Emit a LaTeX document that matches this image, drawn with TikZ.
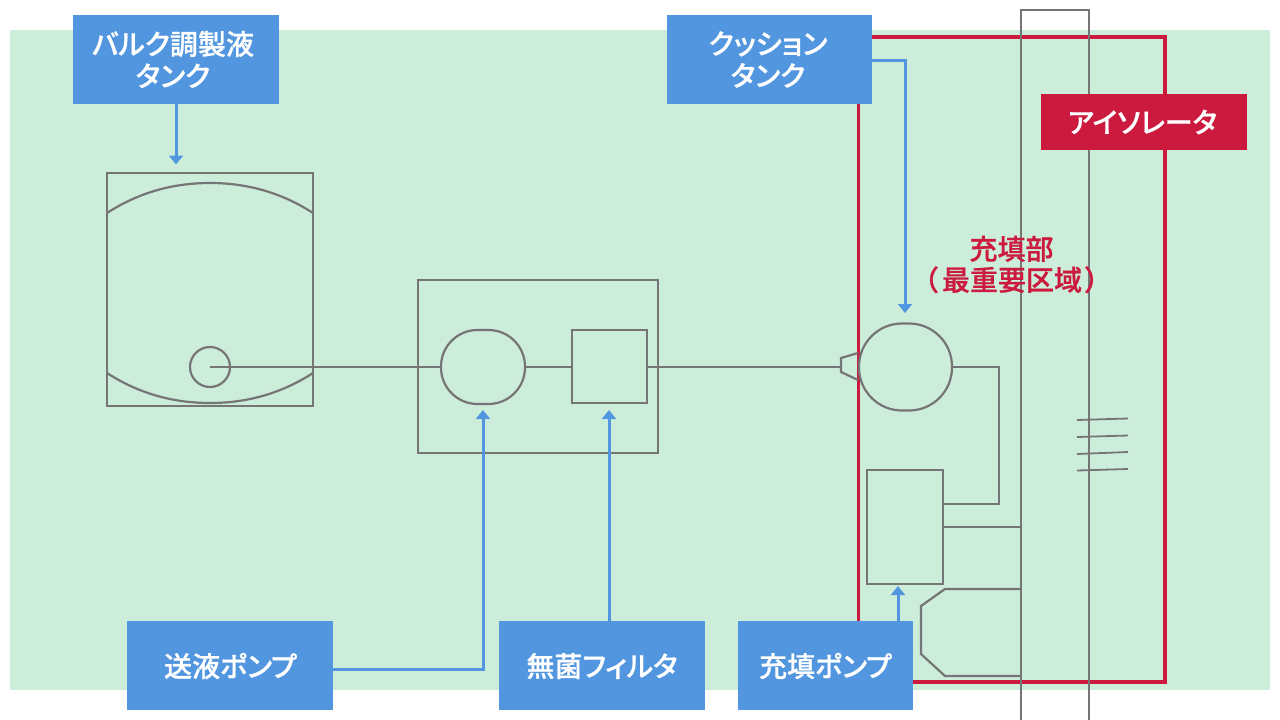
\documentclass[tikz,border=0pt]{standalone}
\usepackage{fontspec}
\setmainfont{Noto Sans CJK JP Medium}[RawFeature=+palt,FakeBold=0.7]
\usetikzlibrary{arrows.meta}
\definecolor{bgG}{HTML}{CDEDDB}
\definecolor{redC}{HTML}{CC1A3F}
\definecolor{blueC}{HTML}{5296DF}
\definecolor{grayC}{HTML}{757575}
\tikzset{
  gl/.style={draw=grayC,line width=2.2pt,line join=miter},
  gshape/.style={gl,rectangle,inner sep=0pt,outer sep=0pt},
  bl/.style={draw=blueC,line width=3pt,-{Triangle[length=9pt,width=14pt]}},
  bluebox/.style={rectangle,fill=blueC,inner sep=0pt,outer sep=0pt,minimum height=89pt},
  redbox/.style={rectangle,fill=redC,inner sep=0pt,outer sep=0pt,minimum width=206pt,minimum height=56pt},
  boxtext/.style={text=white,font=\fontsize{28}{32}\selectfont,align=center,inner sep=0pt},
}
\begin{document}
\begin{tikzpicture}[x=1pt,y=-1pt]
\useasboundingbox (0,0) rectangle (1280,720);
\fill[bgG] (10,30) rectangle (1270,690);
\draw[redC,line width=3.5pt] (858.5,37) rectangle (1165,682);
% tank
\node[gshape,minimum width=206pt,minimum height=233pt] (tank) at (210,289.5) {};
\draw[gl] (tank.west |- 0,213) .. controls (141,191) and (176,183) .. (210,183) .. controls (244,183) and (279,191) .. (tank.east |- 0,213);
\draw[gl] (tank.west |- 0,373) .. controls (141,395) and (176,403) .. (210,403) .. controls (244,403) and (279,395) .. (tank.east |- 0,373);
\node[gshape,circle,minimum size=40pt] (port) at (210,367) {};
% sterile unit
\node[gshape,minimum width=240pt,minimum height=173pt] (unit) at (538,366.5) {};
\node[gshape,rounded corners=36.5pt,minimum width=84pt,minimum height=74pt] (pump) at (483,367) {};
\node[gshape,minimum width=75pt,minimum height=73pt] (filter) at (609.5,366.5) {};
% filling
\coordinate (nozzleTip) at (841,367);
\node[gshape,rounded corners=43pt,minimum width=93pt,minimum height=87pt] (cyl) at (905.5,367) {};
\draw[gl] (858,353) -- (841,358) -- (841,372) -- (858,380);
\node[gshape,minimum width=76pt,minimum height=114pt] (fpump) at (905,527) {};
\coordinate (wallA) at (1021,527);
\coordinate (wallL) at (1021,720);
\coordinate (wallR) at (1089,720);
\draw[gl] (wallL) -- (1021,10) -- (1089,10) -- (wallR);
\draw[gl] (port.center) -- (pump.west);
\draw[gl] (pump.east) -- (pump.east -| filter.west);
\draw[gl] (pump.east -| filter.east) -- (nozzleTip);
\draw[gl] (cyl.east) -- (999,367) -- (999,504) -- (fpump.east |- 0,504);
\draw[gl] (fpump.east) -- (wallA);
\draw[gl] (1021,589) -- (945,589) -- (921,606) -- (921,654) -- (945,676) -- (1021,676);
\draw[gl,line width=1.8pt] (1077,420) -- (1128,418.5);
\draw[gl,line width=1.8pt] (1077,437) -- (1128,435.5);
\draw[gl,line width=1.8pt] (1077,454) -- (1128,452);
\draw[gl,line width=1.8pt] (1077,470.5) -- (1128,469);
% boxes
\node[bluebox,minimum width=206pt] (bulk) at (176,59.5) {};
\node[boxtext] at (173,59.5) {バルク調製液\\タンク};
\node[bluebox,minimum width=205pt] (cushion) at (769.5,59.5) {};
\node[boxtext] at (768,59.5) {クッション\\タンク};
\node[bluebox,minimum width=206pt] (feed) at (230,665.5) {};
\node[boxtext] at (230.5,666) {送液ポンプ};
\node[bluebox,minimum width=206pt] (sterile) at (602,665.5) {};
\node[boxtext] at (602,666) {無菌フィルタ};
\node[bluebox,minimum width=175pt] (fill) at (825.5,665.5) {};
\node[boxtext] at (825.5,666) {充填ポンプ};
\node[redbox] (iso) at (1144,122) {};
\node[boxtext] at (1142.5,122) {アイソレータ};
\node[text=redC,font=\fontsize{28}{31}\selectfont,align=center,inner sep=0pt] (zone) at (1011.5,264.5) {充填部\\（\hspace{4pt}最重要区域\hspace{3pt}）};
% blue connectors
\coordinate (t1) at (176,164.5);
\coordinate (t2) at (905,313);
\coordinate (t3) at (483,410);
\coordinate (t4) at (609,410);
\coordinate (t5) at (898,586);
\draw[bl] (bulk.south -| t1) -- (t1);
\draw[bl] (cushion.east |- 0,60) -- (905,60) -- (t2);
\draw[bl] (feed.east |- 0,669) -- (483,669) -- (t3);
\draw[bl] (sterile.north -| t4) -- (t4);
\draw[bl] (fill.north -| t5) -- (t5);
\end{tikzpicture}
\end{document}
